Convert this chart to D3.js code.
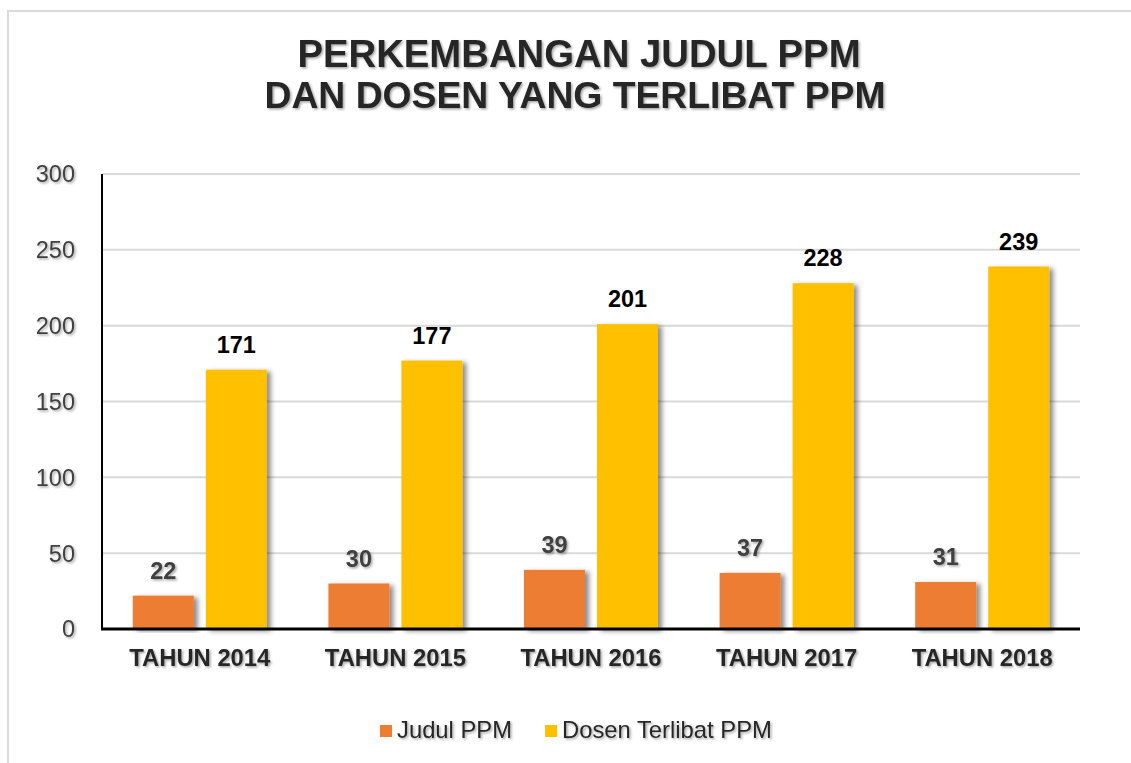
<!DOCTYPE html>
<html>
<head>
<meta charset="utf-8">
<script src="https://cdn.jsdelivr.net/npm/d3@7/dist/d3.min.js"></script>
<style>
  html, body { margin: 0; padding: 0; background: #fff; }
  svg { display: block; font-family: Arial, "Liberation Sans", sans-serif; }
</style>
</head>
<body>
<svg id="chart" width="1131" height="763"></svg>
<script>
const categories = ["TAHUN 2014", "TAHUN 2015", "TAHUN 2016", "TAHUN 2017", "TAHUN 2018"];
const judulPPM = [22, 30, 39, 37, 31];
const dosenPPM = [171, 177, 201, 228, 239];
const seriesNames = ["Judul PPM", "Dosen Terlibat PPM"];
const seriesColors = ["#ED7D31", "#FFC000"];
const yTicks = [0, 50, 100, 150, 200, 250, 300];
const titleLines = ["PERKEMBANGAN JUDUL PPM", "DAN DOSEN YANG TERLIBAT PPM"];

(function () {
const svg = d3.select("#chart");
const defs = svg.append("defs");
const ts = defs.append("filter").attr("id", "tshadow").attr("x", "-10%").attr("y", "-20%").attr("width", "130%").attr("height", "160%");
ts.append("feDropShadow").attr("dx", 1.5).attr("dy", 1.5).attr("stdDeviation", 1.2).attr("flood-color", "#000").attr("flood-opacity", 0.35);
const bs = defs.append("filter").attr("id", "bshadow").attr("x", "-10%").attr("y", "-10%").attr("width", "140%").attr("height", "120%");
bs.append("feDropShadow").attr("dx", 4).attr("dy", 2).attr("stdDeviation", 2.5).attr("flood-color", "#000").attr("flood-opacity", 0.45);

// frame
svg.append("path").attr("d", "M8,763 L8,11 L1131,11").attr("fill", "none").attr("stroke", "#d9d9d9").attr("stroke-width", 2);

const pLeft = 102, pRight = 1080, pTop = 174, pBottom = 629;
const x0 = d3.scaleBand().domain(categories).range([pLeft, pRight]).padding(0);
const y = d3.scaleLinear().domain([0, 300]).range([pBottom, pTop]);

// gridlines
svg.append("g").selectAll("line").data(yTicks.filter(d => d > 0)).join("line")
  .attr("x1", pLeft).attr("x2", pRight).attr("y1", d => y(d)).attr("y2", d => y(d))
  .attr("stroke", "#d9d9d9").attr("stroke-width", 2);

// y tick labels
svg.append("g").selectAll("text").data(yTicks).join("text")
  .attr("x", 75).attr("y", d => y(d)).attr("dy", "0.36em").attr("text-anchor", "end")
  .attr("font-size", 23.5).attr("fill", "#404040").attr("filter", "url(#tshadow)").text(d => d);

// bars
const barW = 61, gap = 12;
const data = categories.map((c, i) => ({ c, vals: [judulPPM[i], dosenPPM[i]] }));
const groupW = barW * 2 + gap;
const g = svg.append("g");
data.forEach(d => {
  const gx = x0(d.c) + (x0.bandwidth() - groupW) / 2;
  d.vals.forEach((v, k) => {
    const bx = gx + k * (barW + gap);
    g.append("rect").attr("x", bx).attr("y", y(v)).attr("width", barW).attr("height", y(0) - y(v))
      .attr("fill", seriesColors[k]).attr("filter", "url(#bshadow)");
    g.append("text").attr("x", bx + barW / 2).attr("y", y(v) - 17).attr("text-anchor", "middle")
      .attr("font-size", 23.5).attr("font-weight", "bold")
      .attr("fill", k === 0 ? "#404040" : "#000")
      .attr("filter", k === 0 ? "url(#tshadow)" : null)
      .text(v);
  });
});

// axes lines
svg.append("line").attr("x1", pLeft).attr("x2", pLeft).attr("y1", pTop).attr("y2", pBottom).attr("stroke", "#000").attr("stroke-width", 2);
svg.append("line").attr("x1", pLeft - 1).attr("x2", pRight).attr("y1", pBottom).attr("y2", pBottom).attr("stroke", "#000").attr("stroke-width", 3);

// category labels
svg.append("g").selectAll("text").data(categories).join("text")
  .attr("x", d => x0(d) + x0.bandwidth() / 2).attr("y", 666).attr("text-anchor", "middle")
  .attr("font-size", 23.8).attr("font-weight", "bold").attr("fill", "#262626")
  .attr("filter", "url(#tshadow)").text(d => d);

// title
svg.append("g").selectAll("text").data(titleLines).join("text")
  .attr("x", (d, i) => i === 0 ? 579 : 575).attr("y", (d, i) => 67 + i * 41).attr("text-anchor", "middle")
  .attr("font-size", (d, i) => i === 0 ? 38.3 : 37.3).attr("font-weight", "bold").attr("fill", "#262626")
  .attr("filter", "url(#tshadow)").text(d => d);

// legend
const legX = [380, 545];
const leg = svg.append("g");
seriesNames.forEach((n, i) => {
  leg.append("rect").attr("x", legX[i]).attr("y", 725).attr("width", 12).attr("height", 12).attr("fill", seriesColors[i]);
  leg.append("text").attr("x", legX[i] + 17).attr("y", 738).attr("font-size", 23.8).attr("fill", "#262626")
    .attr("filter", "url(#tshadow)").text(n);
});
})();
</script>
</body>
</html>
